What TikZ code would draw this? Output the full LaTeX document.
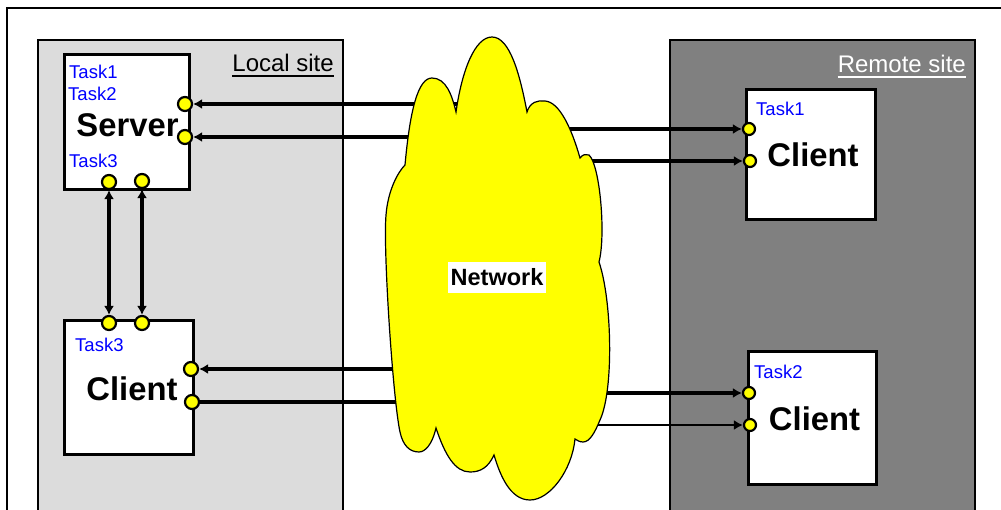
\documentclass[tikz,border=0pt]{standalone}
\usepackage{fontspec}
\setmainfont{Liberation Sans}
\usetikzlibrary{arrows.meta, positioning}
\definecolor{localgray}{HTML}{DCDCDC}
\definecolor{remotegray}{HTML}{808080}
\definecolor{portyellow}{HTML}{FFFF00}
\definecolor{taskblue}{HTML}{0000FF}

\begin{document}
\begin{tikzpicture}[x=1pt, y=-1pt,
  site/.style={draw, line width=2.8pt},
  hostbox/.style={draw, fill=white, line width=3pt, inner sep=0pt},
  port/.style={circle, draw, fill=portyellow, line width=2.2pt, minimum size=14pt, inner sep=0pt},
  smallport/.style={port, minimum size=12pt},
  conn/.style={-{Latex[length=9pt, width=10pt]}, line width=3.2pt},
  biconn/.style={{Latex[length=9pt, width=10pt]}-{Latex[length=9pt, width=10pt]}, line width=3.2pt},
  hostname/.style={font=\fontsize{32.8}{36}\selectfont\bfseries, anchor=base, inner sep=0pt},
  tasklabel/.style={font=\fontsize{18.5}{20}\selectfont, text=taskblue, anchor=base west, inner sep=0pt},
  sitelabel/.style={font=\fontsize{24}{26}\selectfont, anchor=base east, inner sep=0pt},
]
\path[use as bounding box] (0,0) rectangle (1001,510);
\clip (0,0) rectangle (1001,510);

% Frame and sites
\draw[line width=1.5pt] (7,8) rectangle (1020,530);
\draw[site, fill=localgray] (38,40) rectangle (343,530);
\draw[site, fill=remotegray] (670,40) rectangle (975,530);

\node[sitelabel] (loclbl) at (334,72) {Local site};
\draw[line width=2.5pt] ([yshift=-4pt]loclbl.base west) -- ([yshift=-4pt]loclbl.base east);
\node[sitelabel, text=white] (remlbl) at (966,73) {Remote site};
\draw[line width=2.5pt, white] ([yshift=-4pt]remlbl.base west) -- ([yshift=-4pt]remlbl.base east);

% Hosts
\node[hostbox, minimum width=125pt, minimum height=135pt] (server) at (126.5,122.5) {};
\node[hostbox, minimum width=129pt, minimum height=133pt] (locclient) at (128.5,387.5) {};
\node[hostbox, minimum width=129pt, minimum height=130pt] (remclienta) at (810.5,155) {};
\node[hostbox, minimum width=128pt, minimum height=132pt] (remclientb) at (812,418) {};

% Ports
\node[port] (sp1) at (185,104) {};
\node[port] (sp2) at (185,137) {};
\node[port] (sp3) at (109,182) {};
\node[port] (sp4) at (142,181) {};
\node[port] (cp1) at (109,323) {};
\node[port] (cp2) at (142,323) {};
\node[port] (cp3) at (191,369) {};
\node[port] (cp4) at (192,402) {};
\node[smallport] (rap1) at (749,129) {};
\node[smallport] (rap2) at (750,161) {};
\node[smallport] (rbp1) at (749,393) {};
\node[smallport] (rbp2) at (750,425) {};

% Connections
\coordinate (net) at (497,270);
\draw[conn] (net |- sp1) -- (sp1);
\draw[conn] (net |- sp2) -- (sp2);
\draw[conn] (net |- cp3) -- (cp3);
\draw[line width=3.2pt] (net |- cp4) -- (cp4);
\draw[conn] (net |- rap1) -- (rap1);
\draw[conn] (net |- rap2) -- (rap2);
\draw[conn] (net |- rbp1) -- (rbp1);
\draw[conn, line width=2.2pt] (net |- rbp2) -- (rbp2);
\draw[biconn] (sp3) -- (cp1);
\draw[biconn] (sp4) -- (cp2);

% Network cloud
\draw[fill=portyellow, line width=1.2pt]
  (405,165) .. controls (410,110) and (418,78) .. (432,78)
  .. controls (446,78) and (452,95) .. (456,112)
  .. controls (462,70) and (475,37) .. (492,37)
  .. controls (510,37) and (520,75) .. (527,112)
  .. controls (530,102) and (538,100) .. (545,101)
  .. controls (560,102) and (572,130) .. (580,158)
  .. controls (583,154) and (586,154) .. (589,155)
  .. controls (600,165) and (606,235) .. (599,262)
  .. controls (612,300) and (614,390) .. (600,420)
  .. controls (595,432) and (590,442) .. (583,442)
  .. controls (579,442) and (577,440) .. (575,439)
  .. controls (572,470) and (550,500) .. (530,500)
  .. controls (510,500) and (500,475) .. (494,455)
  .. controls (488,468) and (480,472) .. (470,472)
  .. controls (455,472) and (445,455) .. (436,428)
  .. controls (432,445) and (425,452) .. (419,452)
  .. controls (410,452) and (403,446) .. (400,432)
  .. controls (393,400) and (383,250) .. (386,215)
  .. controls (388,190) and (398,172) .. cycle;
\node[fill=white, minimum width=98pt, minimum height=31pt, inner sep=0pt,
  font=\fontsize{23.5}{26}\selectfont\bfseries] (netlbl) at (497,277.5) {Network};

% Texts
\node[hostname] (srvname) at (127.5,137) {Server};
\node[hostname] (locname) at (132,400) {Client};
\node[hostname] (remaname) at (813,167) {Client};
\node[hostname] (rembname) at (814.5,430) {Client};
\node[tasklabel] (srvtaska) at (69,79) {Task1};
\node[tasklabel] (srvtaskb) at (68,101) {Task2};
\node[tasklabel] (srvtaskc) at (69,168) {Task3};
\node[tasklabel] (loctask) at (75,352) {Task3};
\node[tasklabel] (remtaska) at (756,116) {Task1};
\node[tasklabel] (remtaskb) at (754,378) {Task2};

\end{tikzpicture}
\end{document}
